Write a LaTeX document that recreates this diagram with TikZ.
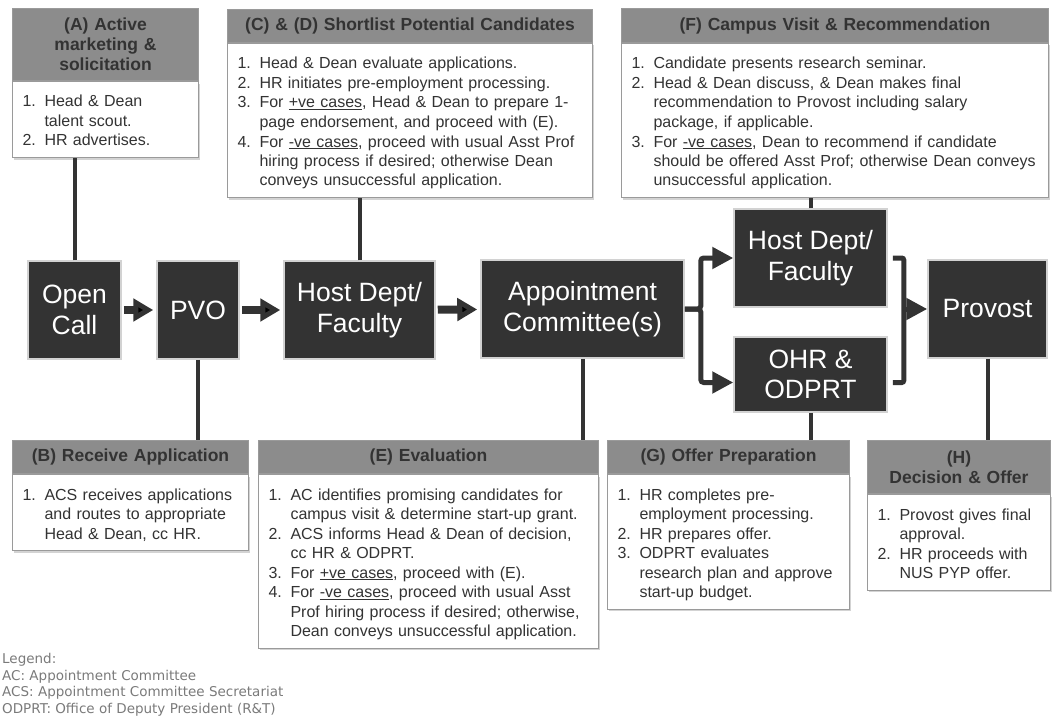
\documentclass[tikz,border=0pt]{standalone}
\usepackage{fontspec}
\setmainfont{Liberation Sans}
\newfontfamily\legendfont{DejaVu Sans}
\usetikzlibrary{arrows.meta,shadows}

\definecolor{stagefill}{HTML}{333333}
\definecolor{headfill}{HTML}{8C8C8C}
\definecolor{inkdark}{HTML}{333333}
\definecolor{edgegray}{HTML}{9A9A9A}
\definecolor{legendgray}{HTML}{7A7A7A}

\newcommand\itm[2]{\par\hangindent=22pt\hangafter=1\noindent\makebox[22pt][l]{\strut#1}#2\strut\par}

\tikzset{
	stage/.style={draw=gray!35, line width=1.5pt, fill=stagefill, text=white, align=center,
		inner sep=0pt, minimum height=98pt, font=\fontsize{26.5}{30.5}\selectfont},
	head/.style={draw=edgegray, line width=1pt, fill=headfill, text=inkdark, align=center,
		anchor=north west, inner xsep=4pt, inner ysep=0pt, font=\bfseries\fontsize{17.5}{20}\selectfont},
	body/.style={draw=edgegray, line width=1pt, fill=white, text=inkdark, align=left,
		anchor=north west, inner xsep=10pt, inner ysep=6pt, font=\fontsize{16}{19.5}\selectfont,
		drop shadow={shadow xshift=1pt, shadow yshift=-2pt, opacity=.35}},
	link/.style={draw=stagefill, line width=4pt},
	flow/.style={draw=stagefill, line width=8pt, -{Triangle[length=20pt,width=22pt]},
		shorten <=2pt, shorten >=3pt},
	fork/.style={draw=stagefill, line width=5pt, rounded corners=3pt, -{Triangle[length=21pt,width=21pt]}},
	legend/.style={anchor=north west, align=left, inner sep=0pt, text=legendgray,
		font=\legendfont\fontsize{13.5}{16.5}\selectfont}
}

\begin{document}
\begin{tikzpicture}[x=1pt,y=-1pt]
	\useasboundingbox (0,0) rectangle (1052,717);

	% stages
	\node[stage, minimum width=93pt] (open) at (74.5,310) {Open\\Call};
	\node[stage, minimum width=82pt] (pvo) at (198,310) {PVO};
	\node[stage, minimum width=151pt] (host1) at (359.5,310) {Host Dept/\\Faculty};
	\node[stage, minimum width=203pt] (appt) at (582.5,309) {Appointment\\Committee(s)};
	\node[stage, minimum width=153pt] (host2) at (810.5,258) {Host Dept/\\Faculty};
	\node[stage, minimum width=153pt, minimum height=75pt] (ohr) at (810.5,374.5) {OHR \&\\ODPRT};
	\node[stage, minimum width=119pt] (provost) at (987.5,309) {Provost};

	% steps above
	\node[head, text width=178pt, minimum height=72pt] (hA) at (12,8) {(A) Active\\marketing \&\\solicitation};
	\node[body, text width=166pt] (bA) at (hA.south west) {%
		\itm{1.}{Head \& Dean\newline talent scout.}
		\itm{2.}{HR advertises.}};

	\node[head, text width=357pt, minimum height=33pt] (hC) at (227,9) {(C) \& (D) Shortlist Potential Candidates};
	\node[body, text width=345pt] (bC) at (hC.south west) {%
		\itm{1.}{Head \& Dean evaluate applications.}
		\itm{2.}{HR initiates pre-employment processing.}
		\itm{3.}{For \underline{+ve cases}, Head \& Dean to prepare 1-\newline page endorsement, and proceed with (E).}
		\itm{4.}{For \underline{-ve cases}, proceed with usual Asst Prof\newline hiring process if desired; otherwise Dean\newline conveys unsuccessful application.}};

	\node[head, text width=419pt, minimum height=34pt] (hF) at (621,8) {(F) Campus Visit \& Recommendation};
	\node[body, text width=407pt] (bF) at (hF.south west) {%
		\itm{1.}{Candidate presents research seminar.}
		\itm{2.}{Head \& Dean discuss, \& Dean makes final\newline recommendation to Provost including salary\newline package, if applicable.}
		\itm{3.}{For \underline{-ve cases}, Dean to recommend if candidate\newline should be offered Asst Prof; otherwise Dean conveys\newline unsuccessful application.}};

	% steps below
	\node[head, text width=228pt, minimum height=33pt] (hB) at (12,440) {(B) Receive Application};
	\node[body, text width=216pt] (bB) at (hB.south west) {%
		\itm{1.}{ACS receives applications\newline and routes to appropriate\newline Head \& Dean, cc HR.}};

	\node[head, text width=332pt, minimum height=33pt] (hE) at (258,440) {(E) Evaluation};
	\node[body, text width=320pt] (bE) at (hE.south west) {%
		\itm{1.}{AC identifies promising candidates for\newline campus visit \& determine start-up grant.}
		\itm{2.}{ACS informs Head \& Dean of decision,\newline cc HR \& ODPRT.}
		\itm{3.}{For \underline{+ve cases}, proceed with (E).}
		\itm{4.}{For \underline{-ve cases}, proceed with usual Asst\newline Prof hiring process if desired; otherwise,\newline Dean conveys unsuccessful application.}};

	\node[head, text width=234pt, minimum height=33pt] (hG) at (607,440) {(G) Offer Preparation};
	\node[body, text width=222pt] (bG) at (hG.south west) {%
		\itm{1.}{HR completes pre-\newline employment processing.}
		\itm{2.}{HR prepares offer.}
		\itm{3.}{ODPRT evaluates\newline research plan and approve\newline start-up budget.}};

	\node[head, text width=175pt, minimum height=53pt] (hH) at (867,440) {(H)\\Decision \& Offer};
	\node[body, text width=163pt] (bH) at (hH.south west) {%
		\itm{1.}{Provost gives final\newline approval.}
		\itm{2.}{HR proceeds with\newline NUS PYP offer.}};

	% links to the steps
	\path[link]
		(open.north) edge (open.north |- bA.south)
		(host1.north) edge (host1.north |- bC.south)
		(host2.north) edge (host2.north |- bF.south)
		(pvo.south) edge (pvo.south |- hB.north)
		(appt.south) edge (appt.south |- hE.north)
		(ohr.south) edge (ohr.south |- hG.north)
		(provost.south) edge (provost.south |- hH.north);

	% main flow
	\path[flow]
		(open) edge (pvo)
		(pvo) edge (host1)
		(host1) edge (appt);

	\draw[fork] (appt.east) -- ++(16,0) |- (host2.west);
	\draw[fork] (appt.east) -- ++(16,0) |- ([yshift=-8pt]ohr.west);

	\coordinate (join) at ([xshift=16pt]host2.east |- provost.west);
	\draw[draw=stagefill, line width=5pt, rounded corners=2pt]
		([xshift=5pt]host2.east) -| ([shift={(16pt,-8pt)}]ohr.east) -- ([shift={(5pt,-8pt)}]ohr.east);
	\draw[fork] (join) -- (provost.west);

	\node[legend] (key) at (2,652) {\strut Legend:\\AC: Appointment Committee\\ACS: Appointment Committee Secretariat\\ODPRT: Office of Deputy President (R\&T)};
\end{tikzpicture}
\end{document}
